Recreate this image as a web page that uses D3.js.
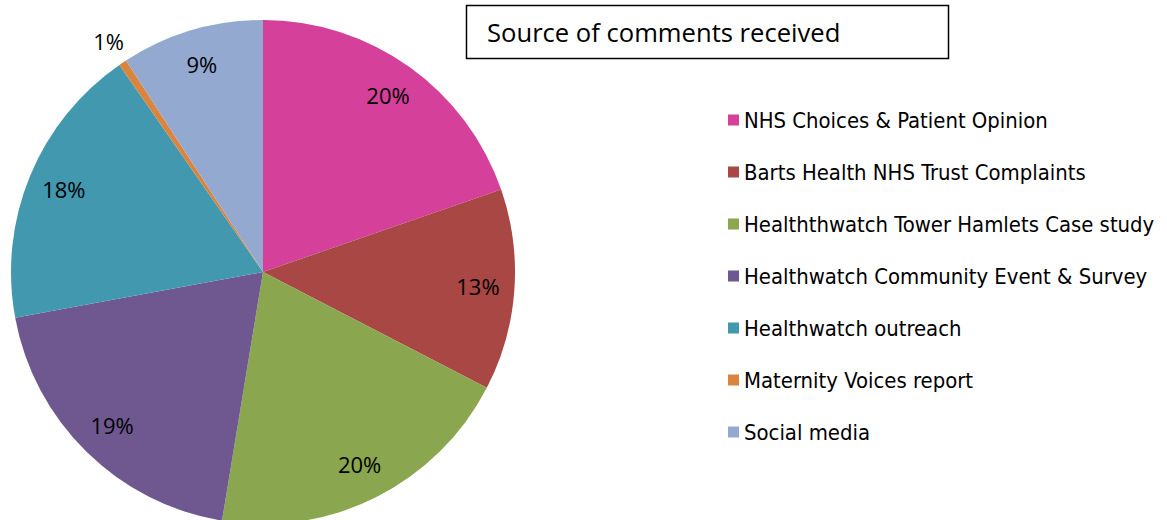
<!DOCTYPE html>
<html><head><meta charset="utf-8">
<script src="https://cdn.jsdelivr.net/npm/d3@7"></script>
<style>body{margin:0;background:#fff;} svg{display:block;}</style>
</head><body><svg id="c" width="1167" height="520"></svg>
<script>
const categories = ["NHS Choices & Patient Opinion","Barts Health NHS Trust Complaints","Healththwatch Tower Hamlets Case study","Healthwatch Community Event & Survey","Healthwatch outreach","Maternity Voices report","Social media"];
const values = [19.7, 12.9, 20.0, 19.5, 18.25, 0.5, 9.15];
const labels = ["20%","13%","20%","19%","18%","1%","9%"];
const colors = ["#D5409A","#A94744","#8AA64E","#6F5890","#4198AF","#DB843D","#93A9CF"];
const title = "Source of comments received";

const svg = d3.select("#c");
const labelFont = "Open Sans";
const legendFont = "DejaVu Sans Condensed, DejaVu Sans";
const cx = 263, cy = 272, r = 252;
const pie = d3.pie().sort(null).value(d => d)(values);
const arc = d3.arc().innerRadius(0).outerRadius(r);
const g = svg.append("g").attr("transform", `translate(${cx},${cy})`);
g.selectAll("path").data(pie).join("path").attr("d", arc).attr("fill", (d,i) => colors[i]);
const inner = d3.arc().innerRadius(r*0.855).outerRadius(r*0.855);
const outer = d3.arc().innerRadius(r*1.1).outerRadius(r*1.1);
g.selectAll("text.l").data(pie).join("text").attr("class","l")
  .attr("transform", (d,i) => `translate(${(i===5?outer:inner).centroid(d)})`)
  .attr("text-anchor","middle").attr("dy","0.36em")
  .attr("font-family", labelFont).attr("font-size", 22).attr("fill","#000")
  .text((d,i) => labels[i]);

svg.append("rect").attr("x",466.5).attr("y",5.5).attr("width",482).attr("height",53)
  .attr("fill","#fff").attr("stroke","#000").attr("stroke-width",1.5);
svg.append("text").attr("x",487).attr("y",42).attr("font-family",labelFont).attr("font-size",25.6).text(title);

const lg = svg.append("g");
const ly = d3.scalePoint().domain(categories).range([120, 432]);
categories.forEach((c,i) => {
  lg.append("rect").attr("x",728).attr("y",ly(c)-5.5).attr("width",11).attr("height",11).attr("fill",colors[i]);
  lg.append("text").attr("x",744).attr("y",ly(c)).attr("dy","0.36em").attr("font-family",legendFont).attr("font-size",21.9).text(c);
});
</script></body></html>
